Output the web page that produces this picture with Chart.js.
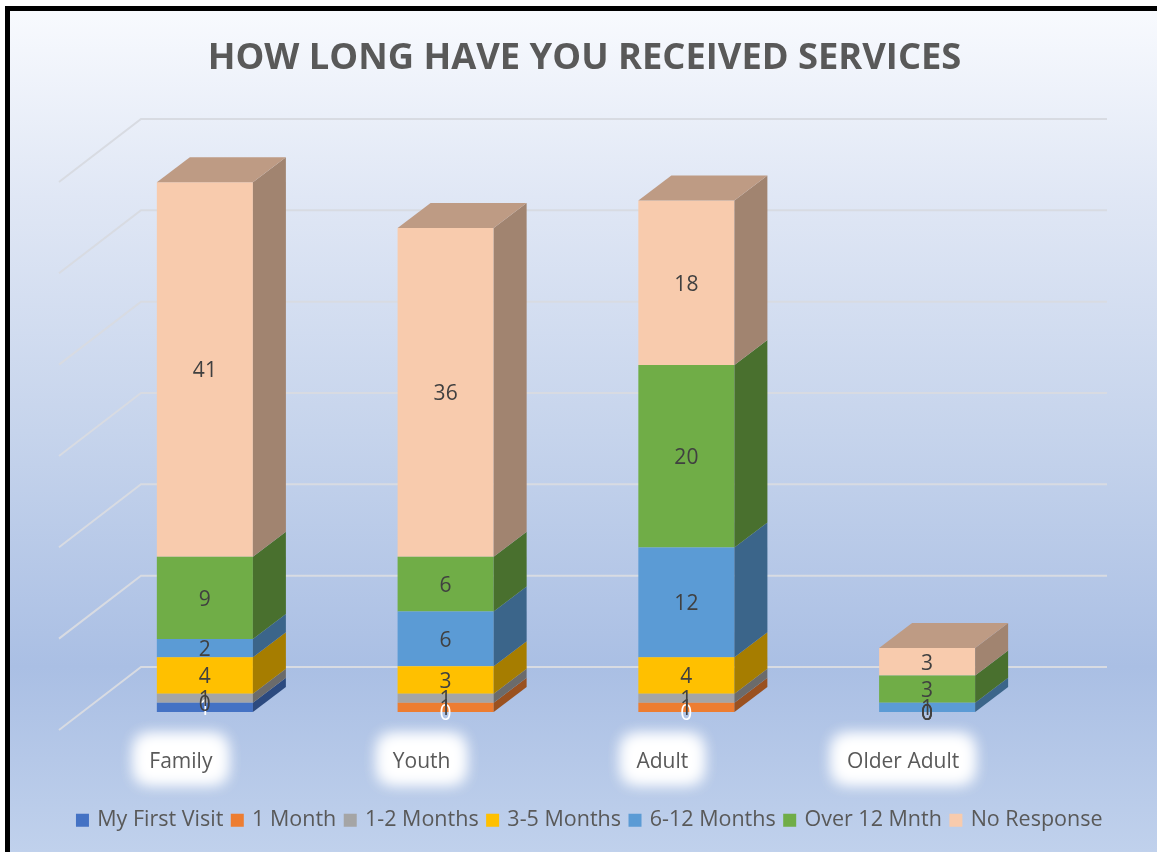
<!DOCTYPE html>
<html><head><meta charset="utf-8">
<script src="https://cdn.jsdelivr.net/npm/chart.js@4"></script>
<style>html,body{margin:0;padding:0;background:#fff;overflow:hidden}canvas{display:block}</style>
</head><body><canvas id="c" width="1157" height="852"></canvas>
<script>
const categories = ['Family','Youth','Adult','Older Adult'];
const chartTitle = 'HOW LONG HAVE YOU RECEIVED SERVICES';
const seriesNames = ['My First Visit','1 Month','1-2 Months','3-5 Months','6-12 Months','Over 12 Mnth','No Response'];
const seriesColors = ['#4472c4','#ed7d31','#a5a5a5','#ffc000','#5b9bd5','#70ad47','#f8cbad'];
const myFirstVisit = [1,0,0,0];
const oneMonth = [0,1,1,0];
const oneToTwo = [1,1,1,0];
const threeToFive = [4,3,4,0];
const sixToTwelve = [2,6,12,1];
const over12 = [9,6,20,3];
const noResponse = [41,36,18,3];
const seriesValues = [myFirstVisit,oneMonth,oneToTwo,threeToFive,sixToTwelve,over12,noResponse];
const axisTicks = [0,10,20,30,40,50,60];

const FONT = '"Open Sans", sans-serif';
const DX = 33, DY = 25;
const shade = (hex,f)=>{const n=parseInt(hex.slice(1),16);
  return `rgb(${Math.round((n>>16&255)*f)},${Math.round((n>>8&255)*f)},${Math.round((n&255)*f)})`;};

const backdrop = {
  id:'backdrop',
  beforeDraw(chart){
    const {ctx,width,height,scales} = chart;
    ctx.save();
    ctx.fillStyle='#fff'; ctx.fillRect(0,0,width,height);
    ctx.fillStyle='#000'; ctx.fillRect(5,6,width-5,height-6);
    const g=ctx.createLinearGradient(0,11,0,height);
    g.addColorStop(0,'#f8fafe');
    g.addColorStop(0.22,'#e0e7f5');
    g.addColorStop(0.5,'#c6d4ec');
    g.addColorStop(0.78,'#aabfe4');
    g.addColorStop(1,'#c0d1ec');
    ctx.fillStyle=g; ctx.fillRect(10,11,width-10,height-11);
    const y=scales.y;
    ctx.strokeStyle='rgb(216,219,226)'; ctx.lineWidth=2;
    axisTicks.forEach(v=>{
      const p=y.getPixelForValue(v);
      ctx.beginPath();
      ctx.moveTo(59,p+18); ctx.lineTo(141,p-45); ctx.lineTo(1107,p-45);
      ctx.stroke();
    });
    const x=scales.x, off=x.options.ticks.labelOffset;
    ctx.font='21px '+FONT;
    categories.forEach((c,i)=>{
      const cx=x.getPixelForTick(i)+off, w=ctx.measureText(c).width;
      ctx.save();
      ctx.filter='blur(8px)';
      ctx.fillStyle='#fff';
      for(let k=0;k<2;k++){
        ctx.beginPath();
        ctx.roundRect(cx-w/2-13,736,w+26,46,10);
        ctx.fill();
      }
      ctx.restore();
    });
    ctx.restore();
  }
};
const faces = {
  id:'faces',
  afterDatasetsDraw(chart){
    const {ctx}=chart; ctx.save();
    categories.forEach((_,i)=>{
      let top=null;
      seriesValues.forEach((vals,d)=>{
        if(vals[i]<=0) return;
        const b=chart.getDatasetMeta(d).data[i];
        const r=b.x+b.width/2;
        ctx.fillStyle=shade(seriesColors[d],0.65);
        ctx.beginPath();
        ctx.moveTo(r,b.y);ctx.lineTo(r+DX,b.y-DY);ctx.lineTo(r+DX,b.base-DY);ctx.lineTo(r,b.base);
        ctx.closePath();ctx.fill();
        top={b,d};
      });
      if(top){
        const {b,d}=top, l=b.x-b.width/2, r=b.x+b.width/2;
        ctx.fillStyle=shade(seriesColors[d],0.765);
        ctx.beginPath();
        ctx.moveTo(l,b.y);ctx.lineTo(l+DX,b.y-DY);ctx.lineTo(r+DX,b.y-DY);ctx.lineTo(r,b.y);
        ctx.closePath();ctx.fill();
      }
    });
    ctx.font='21px '+FONT; ctx.textAlign='center'; ctx.textBaseline='middle';
    seriesValues.forEach((vals,d)=>{
      ctx.fillStyle=d===0?'#ffffff':'#404040';
      vals.forEach((v,i)=>{
        const b=chart.getDatasetMeta(d).data[i];
        ctx.fillText(String(v),b.x,(b.y+b.base)/2+2);
      });
    });
    ctx.restore();
  }
};
const nudge = {
  id:'nudge',
  afterLayout(chart){
    chart.titleBlock.left+=6; chart.titleBlock.right+=6;
    chart.legend.left+=12; chart.legend.right+=12;
    chart.legend.top-=11; chart.legend.bottom-=11;
  }
};

new Chart(document.getElementById('c'),{
  type:'bar',
  data:{labels:categories,datasets:seriesNames.map((n,i)=>({
    label:n,data:seriesValues[i],backgroundColor:seriesColors[i],borderWidth:0,
    barPercentage:1,categoryPercentage:0.399
  }))},
  plugins:[backdrop,faces,nudge],
  options:{
    responsive:false,animation:false,
    layout:{padding:0},
    plugins:{
      tooltip:{enabled:false},
      title:{display:true,text:chartTitle,color:'#595959',
        font:{family:FONT,size:36.3,weight:'700',lineHeight:1.2},
        padding:{top:37.2,bottom:83.2}},
      legend:{position:'bottom',
        labels:{color:'#595959',font:{family:FONT,size:21.5},boxWidth:8,boxHeight:8,padding:10,
          generateLabels(chart){
            return Chart.defaults.plugins.legend.labels.generateLabels(chart).map((it,i)=>
              Object.assign(it,{strokeStyle:seriesColors[i],lineWidth:5}));
          }}}
    },
    scales:{
      x:{stacked:true,grid:{display:false},border:{display:false},
        ticks:{color:'#595959',font:{family:FONT,size:21},padding:29,labelOffset:-24,maxRotation:0},
        afterFit(s){s.height=140-s.chart.legend.height;}},
      y:{stacked:true,min:0,max:60,grid:{display:false},border:{display:false},
        ticks:{display:false,stepSize:10},
        afterFit(s){s.width=84.5;}},
      yRight:{position:'right',min:0,max:60,grid:{display:false},border:{display:false},
        ticks:{display:false},
        afterFit(s){s.width=109.5;}}
    }
  }
});
</script></body></html>
